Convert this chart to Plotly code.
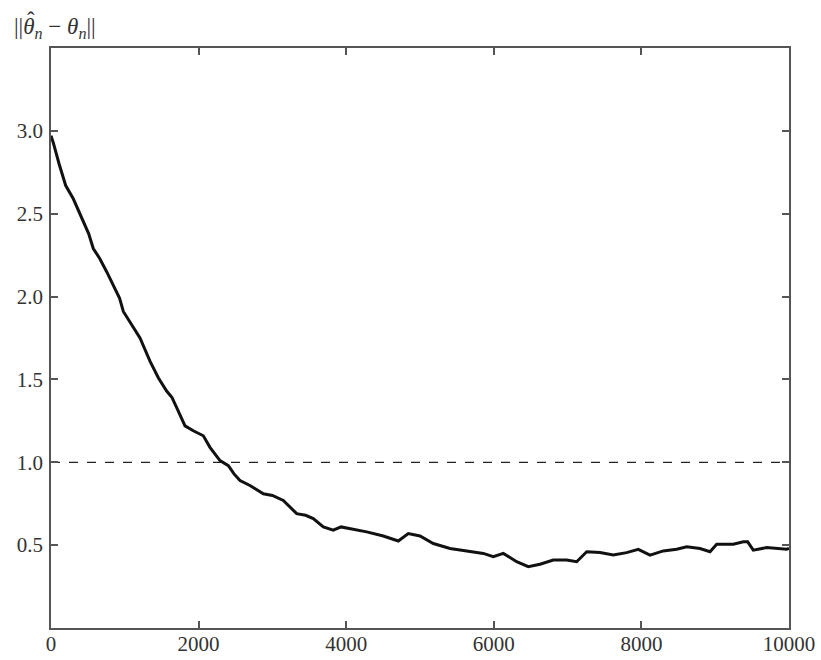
import plotly.graph_objects as go

# Iteration index n
n_vals = [0, 30, 110, 199, 302, 370, 438, 510, 573, 660, 754, 867, 930, 980, 1090, 1206,
          1341, 1454, 1567, 1640, 1703, 1760, 1816, 1928, 2064, 2154, 2290, 2403, 2480,
          2561, 2696, 2877, 3000, 3148, 3329, 3450, 3554, 3690, 3825, 3930, 4051, 4278,
          4503, 4706, 4841, 5000, 5180, 5407, 5633, 5858, 5993, 6129, 6310, 6467, 6626,
          6806, 6987, 7123, 7259, 7439, 7619, 7800, 7958, 8117, 8297, 8478, 8614, 8794,
          8930, 9020, 9245, 9381, 9440, 9516, 9697, 9968, 10000]
# Estimation error ||theta_hat_n - theta_n||
err_vals = [2.97, 2.93, 2.80, 2.67, 2.59, 2.52, 2.45, 2.38, 2.29, 2.23, 2.15, 2.05, 1.99,
            1.91, 1.83, 1.75, 1.61, 1.51, 1.43, 1.39, 1.33, 1.27, 1.22, 1.19, 1.16, 1.09,
            1.01, 0.98, 0.93, 0.89, 0.86, 0.81, 0.80, 0.77, 0.69, 0.68, 0.66, 0.61, 0.59,
            0.61, 0.60, 0.58, 0.555, 0.525, 0.57, 0.555, 0.51, 0.48, 0.465, 0.45, 0.43,
            0.45, 0.40, 0.37, 0.385, 0.41, 0.41, 0.40, 0.46, 0.455, 0.44, 0.455, 0.475,
            0.44, 0.465, 0.475, 0.49, 0.48, 0.46, 0.505, 0.505, 0.52, 0.52, 0.47, 0.485,
            0.475, 0.48]
threshold = 1.0
x_range = [0, 10000]
y_range = [0, 3.5]
x_ticks = [0, 2000, 4000, 6000, 8000, 10000]
y_ticks = [0.5, 1.0, 1.5, 2.0, 2.5, 3.0]
y_ticklabels = ["0.5", "1.0", "1.5", "2.0", "2.5", "3.0"]

font_family = "Liberation Serif"

fig = go.Figure()
fig.add_trace(go.Scatter(
    x=x_range, y=[threshold, threshold], mode="lines",
    line=dict(color="#222222", width=1.2, dash="dash"), hoverinfo="skip",
))
fig.add_trace(go.Scatter(
    x=n_vals, y=err_vals, mode="lines",
    line=dict(color="#111111", width=3),
))

axis_common = dict(
    showline=True, linecolor="#555555", linewidth=1.5, mirror="ticks",
    ticks="inside", ticklen=7, tickwidth=1.5, tickcolor="#555555",
    showgrid=False, zeroline=False, automargin=False,
    tickfont=dict(family=font_family, size=21, color="#333333"),
)
fig.update_xaxes(range=x_range, tickvals=x_ticks, ticktext=[str(t) for t in x_ticks],
                 ticklabelstandoff=-4, **axis_common)
fig.update_yaxes(range=y_range, tickvals=y_ticks, ticktext=y_ticklabels,
                 ticklabelstandoff=2, **axis_common)

# y-axis title at top left
fig.add_annotation(
    xref="paper", yref="paper", x=-0.0528, y=1.0345, xanchor="left", yanchor="middle",
    text="||<i>θ</i><sub><i>n</i></sub> − <i>θ</i><sub><i>n</i></sub>||",
    showarrow=False, font=dict(family=font_family, size=23, color="#333333"),
)
# hat over the first theta
fig.add_annotation(
    xref="paper", yref="paper", x=-0.0271, y=1.0466, xanchor="center", yanchor="middle",
    text="ˆ", showarrow=False,
    font=dict(family=font_family, size=23, color="#333333"),
)

fig.update_layout(
    width=821, height=660,
    margin=dict(l=51, r=32, t=48, b=32),
    paper_bgcolor="white", plot_bgcolor="white",
    showlegend=False,
)

fig.write_html("out.html")
